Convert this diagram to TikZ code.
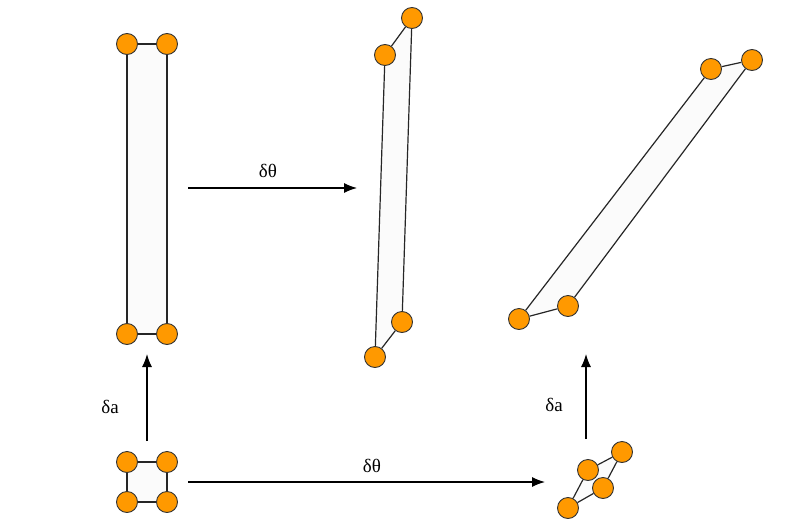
\documentclass[tikz,border=0pt]{standalone}
\usepackage{fontspec}
\setmainfont{Liberation Serif}
\usetikzlibrary{arrows.meta}
\definecolor{dot}{HTML}{FF9900}
\definecolor{panel}{HTML}{FBFBFB}
\begin{document}
\begin{tikzpicture}[x=1pt,y=-1pt,
  atom/.style={circle,draw=black!80,line width=0.9pt,fill=dot,minimum size=21pt,inner sep=0pt},
  bond/.style={draw=black!85,line width=1.2pt},
  move/.style={draw=black,line width=1.2pt,-{Latex[length=13pt,width=10pt]}},
  lab/.style={font=\fontsize{19}{22}\selectfont}]
\useasboundingbox (0,0) rectangle (785,525);
% top-left tall rectangle
\fill[panel] (127,44) -- (167,44) -- (167,334) -- (127,334) -- cycle;
\node[atom] (a1) at (127,44) {};
\node[atom] (a2) at (167,44) {};
\node[atom] (a3) at (127,334) {};
\node[atom] (a4) at (167,334) {};
\draw[bond] (a1) -- (a2);
\draw[bond] (a3) -- (a4);
\draw[bond] (a1) -- (a3);
\draw[bond] (a2) -- (a4);
% middle sheared
\fill[panel] (385,55) -- (412,18) -- (402,322) -- (375,357) -- cycle;
\node[atom] (b1) at (385,55) {};
\node[atom] (b2) at (412,18) {};
\node[atom] (b3) at (375,357) {};
\node[atom] (b4) at (402,322) {};
\draw[bond] (b1) -- (b2);
\draw[bond] (b3) -- (b4);
\draw[bond] (b1) -- (b3);
\draw[bond] (b2) -- (b4);
% right sheared
\fill[panel] (519,319) -- (568,306) -- (752,60) -- (711,69) -- cycle;
\node[atom] (c1) at (711,69) {};
\node[atom] (c2) at (752,60) {};
\node[atom] (c3) at (519,319) {};
\node[atom] (c4) at (568,306) {};
\draw[bond] (c1) -- (c2);
\draw[bond] (c3) -- (c4);
\draw[bond] (c1) -- (c3);
\draw[bond] (c2) -- (c4);
% bottom-left square
\fill[panel] (127,462) -- (167,462) -- (167,502) -- (127,502) -- cycle;
\node[atom] (d1) at (127,462) {};
\node[atom] (d2) at (167,462) {};
\node[atom] (d3) at (127,502) {};
\node[atom] (d4) at (167,502) {};
\draw[bond] (d1) -- (d2);
\draw[bond] (d3) -- (d4);
\draw[bond] (d1) -- (d3);
\draw[bond] (d2) -- (d4);
% bottom-right small
\fill[panel] (588,470) -- (622,452) -- (603,488) -- (568,508) -- cycle;
\node[atom] (e1) at (588,470) {};
\node[atom] (e2) at (622,452) {};
\node[atom] (e3) at (568,508) {};
\node[atom] (e4) at (603,488) {};
\draw[bond] (e1) -- (e2);
\draw[bond] (e3) -- (e4);
\draw[bond] (e1) -- (e3);
\draw[bond] (e2) -- (e4);
% arrows
\coordinate (t1s) at (188,188); \coordinate (t1e) at (357,188);
\coordinate (t2s) at (188,482); \coordinate (t2e) at (545,482);
\coordinate (u1s) at (147,441); \coordinate (u1e) at (147,354);
\coordinate (u2s) at (586,439); \coordinate (u2e) at (586,354);
\draw[move] (t1s) -- (t1e);
\draw[move] (t2s) -- (t2e);
\draw[move] (u1s) -- (u1e);
\draw[move] (u2s) -- (u2e);
\node[lab] (l1) at (268,171) {δθ};
\node[lab] (l2) at (372,466) {δθ};
\node[lab] (l3) at (110,407) {δa};
\node[lab] (l4) at (554,405) {δa};
\end{tikzpicture}
\end{document}
